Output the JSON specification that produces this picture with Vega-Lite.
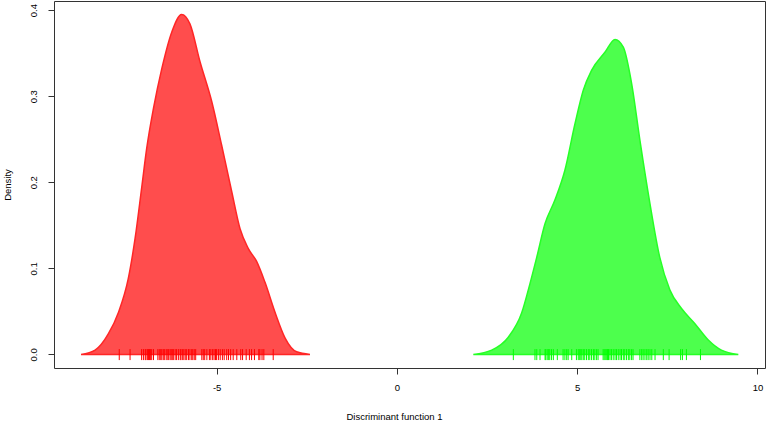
{
  "$schema": "https://vega.github.io/schema/vega-lite/v6.json",
  "width": 711,
  "height": 367,
  "autosize": "none",
  "padding": {"left": 54, "top": 1, "right": 2, "bottom": 55},
  "background": "white",
  "config": {
    "view": {"stroke": "#333333", "strokeWidth": 1},
    "font": "Liberation Sans",
    "axis": {"grid": false, "domain": false, "tickColor": "#333333", "tickSize": 6, "labelFont": "Liberation Sans", "titleFont": "Liberation Sans", "labelFontSize": 9.5, "titleFontSize": 9.5, "titleFontWeight": "normal", "labelColor": "#000000", "titleColor": "#000000"}
  },
  "datasets": {
    "curves": [
      {"group": "G1", "x": -8.76, "density": 0},
      {"group": "G1", "x": -8.37, "density": 0.005},
      {"group": "G1", "x": -8.0, "density": 0.024},
      {"group": "G1", "x": -7.72, "density": 0.049},
      {"group": "G1", "x": -7.45, "density": 0.088},
      {"group": "G1", "x": -7.26, "density": 0.135},
      {"group": "G1", "x": -7.08, "density": 0.193},
      {"group": "G1", "x": -6.94, "density": 0.239},
      {"group": "G1", "x": -6.75, "density": 0.286},
      {"group": "G1", "x": -6.52, "density": 0.332},
      {"group": "G1", "x": -6.24, "density": 0.375},
      {"group": "G1", "x": -5.97, "density": 0.395},
      {"group": "G1", "x": -5.74, "density": 0.384},
      {"group": "G1", "x": -5.46, "density": 0.34},
      {"group": "G1", "x": -5.13, "density": 0.293},
      {"group": "G1", "x": -4.86, "density": 0.243},
      {"group": "G1", "x": -4.58, "density": 0.189},
      {"group": "G1", "x": -4.35, "density": 0.146},
      {"group": "G1", "x": -4.12, "density": 0.123},
      {"group": "G1", "x": -3.89, "density": 0.108},
      {"group": "G1", "x": -3.66, "density": 0.084},
      {"group": "G1", "x": -3.38, "density": 0.049},
      {"group": "G1", "x": -3.1, "density": 0.019},
      {"group": "G1", "x": -2.78, "density": 0.003},
      {"group": "G1", "x": -2.41, "density": 0},
      {"group": "G2", "x": 2.12, "density": 0},
      {"group": "G2", "x": 2.63, "density": 0.005},
      {"group": "G2", "x": 3.09, "density": 0.02},
      {"group": "G2", "x": 3.46, "density": 0.048},
      {"group": "G2", "x": 3.69, "density": 0.082},
      {"group": "G2", "x": 3.88, "density": 0.113},
      {"group": "G2", "x": 4.11, "density": 0.152},
      {"group": "G2", "x": 4.38, "density": 0.179},
      {"group": "G2", "x": 4.66, "density": 0.214},
      {"group": "G2", "x": 4.94, "density": 0.268},
      {"group": "G2", "x": 5.17, "density": 0.307},
      {"group": "G2", "x": 5.4, "density": 0.33},
      {"group": "G2", "x": 5.77, "density": 0.351},
      {"group": "G2", "x": 6.05, "density": 0.366},
      {"group": "G2", "x": 6.28, "density": 0.357},
      {"group": "G2", "x": 6.51, "density": 0.315},
      {"group": "G2", "x": 6.74, "density": 0.249},
      {"group": "G2", "x": 7.02, "density": 0.175},
      {"group": "G2", "x": 7.29, "density": 0.113},
      {"group": "G2", "x": 7.57, "density": 0.075},
      {"group": "G2", "x": 7.9, "density": 0.053},
      {"group": "G2", "x": 8.26, "density": 0.036},
      {"group": "G2", "x": 8.63, "density": 0.017},
      {"group": "G2", "x": 9.0, "density": 0.005},
      {"group": "G2", "x": 9.47, "density": 0}
    ],
    "rug": [
      {"group": "G1", "x": -7.70}, {"group": "G1", "x": -7.40}, {"group": "G1", "x": -7.08}, {"group": "G1", "x": -7.03},
      {"group": "G1", "x": -6.98}, {"group": "G1", "x": -6.96}, {"group": "G1", "x": -6.92}, {"group": "G1", "x": -6.89},
      {"group": "G1", "x": -6.86}, {"group": "G1", "x": -6.83}, {"group": "G1", "x": -6.80}, {"group": "G1", "x": -6.75},
      {"group": "G1", "x": -6.63}, {"group": "G1", "x": -6.59}, {"group": "G1", "x": -6.55}, {"group": "G1", "x": -6.52},
      {"group": "G1", "x": -6.48}, {"group": "G1", "x": -6.45}, {"group": "G1", "x": -6.40}, {"group": "G1", "x": -6.37},
      {"group": "G1", "x": -6.33}, {"group": "G1", "x": -6.29}, {"group": "G1", "x": -6.26}, {"group": "G1", "x": -6.23},
      {"group": "G1", "x": -6.20}, {"group": "G1", "x": -6.15}, {"group": "G1", "x": -6.11}, {"group": "G1", "x": -6.06},
      {"group": "G1", "x": -6.01}, {"group": "G1", "x": -5.99}, {"group": "G1", "x": -5.95}, {"group": "G1", "x": -5.91},
      {"group": "G1", "x": -5.87}, {"group": "G1", "x": -5.83}, {"group": "G1", "x": -5.78}, {"group": "G1", "x": -5.74},
      {"group": "G1", "x": -5.69}, {"group": "G1", "x": -5.66}, {"group": "G1", "x": -5.62}, {"group": "G1", "x": -5.58},
      {"group": "G1", "x": -5.41}, {"group": "G1", "x": -5.37}, {"group": "G1", "x": -5.33}, {"group": "G1", "x": -5.27},
      {"group": "G1", "x": -5.20}, {"group": "G1", "x": -5.16}, {"group": "G1", "x": -5.11}, {"group": "G1", "x": -5.07},
      {"group": "G1", "x": -5.03}, {"group": "G1", "x": -5.00}, {"group": "G1", "x": -4.95}, {"group": "G1", "x": -4.90},
      {"group": "G1", "x": -4.84}, {"group": "G1", "x": -4.79}, {"group": "G1", "x": -4.72}, {"group": "G1", "x": -4.67},
      {"group": "G1", "x": -4.61}, {"group": "G1", "x": -4.54}, {"group": "G1", "x": -4.44}, {"group": "G1", "x": -4.33},
      {"group": "G1", "x": -4.28}, {"group": "G1", "x": -4.18}, {"group": "G1", "x": -4.09}, {"group": "G1", "x": -4.03},
      {"group": "G1", "x": -3.95}, {"group": "G1", "x": -3.83}, {"group": "G1", "x": -3.80}, {"group": "G1", "x": -3.74},
      {"group": "G1", "x": -3.69}, {"group": "G1", "x": -3.43},
      {"group": "G2", "x": 3.23}, {"group": "G2", "x": 3.83}, {"group": "G2", "x": 3.88}, {"group": "G2", "x": 3.97},
      {"group": "G2", "x": 4.11}, {"group": "G2", "x": 4.13}, {"group": "G2", "x": 4.17}, {"group": "G2", "x": 4.21},
      {"group": "G2", "x": 4.24}, {"group": "G2", "x": 4.29}, {"group": "G2", "x": 4.34}, {"group": "G2", "x": 4.45},
      {"group": "G2", "x": 4.61}, {"group": "G2", "x": 4.66}, {"group": "G2", "x": 4.71}, {"group": "G2", "x": 4.75},
      {"group": "G2", "x": 4.85}, {"group": "G2", "x": 4.98}, {"group": "G2", "x": 5.03}, {"group": "G2", "x": 5.06},
      {"group": "G2", "x": 5.10}, {"group": "G2", "x": 5.13}, {"group": "G2", "x": 5.17}, {"group": "G2", "x": 5.21},
      {"group": "G2", "x": 5.26}, {"group": "G2", "x": 5.31}, {"group": "G2", "x": 5.35}, {"group": "G2", "x": 5.40},
      {"group": "G2", "x": 5.45}, {"group": "G2", "x": 5.49}, {"group": "G2", "x": 5.54}, {"group": "G2", "x": 5.58},
      {"group": "G2", "x": 5.72}, {"group": "G2", "x": 5.75}, {"group": "G2", "x": 5.78}, {"group": "G2", "x": 5.82},
      {"group": "G2", "x": 5.84}, {"group": "G2", "x": 5.87}, {"group": "G2", "x": 5.91}, {"group": "G2", "x": 5.95},
      {"group": "G2", "x": 6.00}, {"group": "G2", "x": 6.05}, {"group": "G2", "x": 6.09}, {"group": "G2", "x": 6.14},
      {"group": "G2", "x": 6.19}, {"group": "G2", "x": 6.23}, {"group": "G2", "x": 6.28}, {"group": "G2", "x": 6.32},
      {"group": "G2", "x": 6.37}, {"group": "G2", "x": 6.42}, {"group": "G2", "x": 6.46}, {"group": "G2", "x": 6.51},
      {"group": "G2", "x": 6.55}, {"group": "G2", "x": 6.74}, {"group": "G2", "x": 6.79}, {"group": "G2", "x": 6.83},
      {"group": "G2", "x": 6.88}, {"group": "G2", "x": 6.93}, {"group": "G2", "x": 6.97}, {"group": "G2", "x": 7.02},
      {"group": "G2", "x": 7.07}, {"group": "G2", "x": 7.16}, {"group": "G2", "x": 7.39}, {"group": "G2", "x": 7.55},
      {"group": "G2", "x": 7.87}, {"group": "G2", "x": 7.92}, {"group": "G2", "x": 8.03}, {"group": "G2", "x": 8.42}
    ]
  },
  "encoding": {
    "x": {"field": "x", "type": "quantitative", "scale": {"domain": [-9.51, 10.21], "nice": false, "zero": false},
      "axis": {"values": [-5, 0, 5, 10], "labelExpr": "datum.value < 0 ? '-' + abs(datum.value) : '' + datum.value", "title": "Discriminant function 1", "labelPadding": 8, "titlePadding": 20, "titleX": 340, "labelFlush": false}}
  },
  "layer": [
    {
      "data": {"name": "curves"},
      "transform": [{"filter": "datum.group === 'G1'"}],
      "mark": {"type": "area", "interpolate": "monotone", "strokeWidth": 1.5, "fill": "#FF4D4D", "stroke": "#FF2626", "fillOpacity": 1},
      "encoding": {
        "y": {"field": "density", "type": "quantitative", "scale": {"domain": [-0.0158, 0.4106], "nice": false, "zero": false},
          "axis": {"values": [0, 0.1, 0.2, 0.3, 0.4], "format": ".1f", "title": "Density", "labelAngle": -90, "labelAlign": "center", "labelBaseline": "bottom", "labelPadding": 10, "titlePadding": 16}}
      }
    },
    {
      "data": {"name": "curves"},
      "transform": [{"filter": "datum.group === 'G2'"}],
      "mark": {"type": "area", "interpolate": "monotone", "strokeWidth": 1.5, "fill": "#4DFF4D", "stroke": "#26FF26", "fillOpacity": 1},
      "encoding": {
        "y": {"field": "density", "type": "quantitative"}
      }
    },
    {
      "data": {"name": "rug"},
      "mark": {"type": "rule", "strokeWidth": 1},
      "encoding": {
        "y": {"datum": 0.0062},
        "y2": {"datum": -0.0066},
        "color": {"field": "group", "type": "nominal", "scale": {"domain": ["G1", "G2"], "range": ["#FF0000", "#00FF00"]}, "legend": null}
      }
    }
  ]
}
